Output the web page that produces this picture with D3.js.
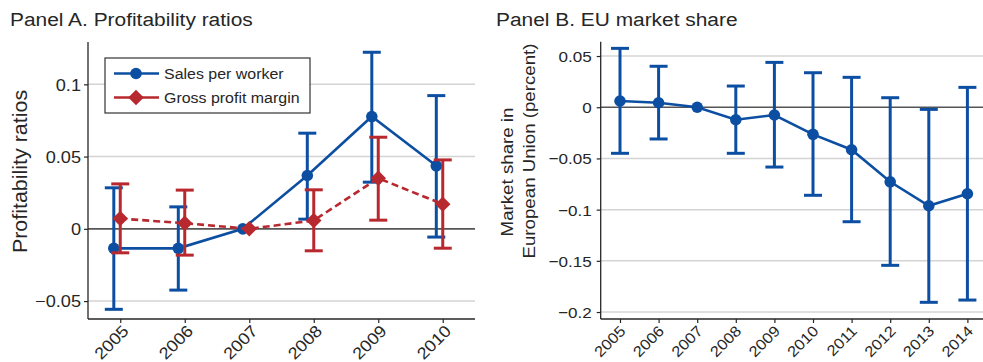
<!DOCTYPE html>
<html>
<head>
<meta charset="utf-8">
<script src="https://cdn.jsdelivr.net/npm/d3@7"></script>
<style>
  html, body { margin: 0; padding: 0; background: #fff; }
  svg { display: block; font-family: "Liberation Sans", Arial, Helvetica, sans-serif; }
</style>
</head>
<body>
<svg id="chart" width="983" height="362"></svg>
<script>
// ---- Panel A: profitability ratios (point estimates with 95% CIs) ----
const yearsA = [2005, 2006, 2007, 2008, 2009, 2010];
const salesEst = [-0.0135, -0.0135, 0, 0.0369, 0.0777, 0.0436];
const salesLo  = [-0.0557, -0.0424, null, 0.0067, 0.0323, -0.0057];
const salesHi  = [0.0284, 0.0152, null, 0.0662, 0.1222, 0.0922];
const marginEst = [0.0071, 0.0039, 0, 0.0058, 0.0350, 0.0171];
const marginLo  = [-0.0166, -0.0182, null, -0.0152, 0.0060, -0.0134];
const marginHi  = [0.0311, 0.0268, null, 0.0270, 0.0634, 0.0477];
const ticksA = [-0.05, 0, 0.05, 0.1];
const tickLabelsA = ["\u22120.05", "0", "0.05", "0.1"];

// ---- Panel B: EU market share ----
const yearsB = [2005, 2006, 2007, 2008, 2009, 2010, 2011, 2012, 2013, 2014];
const shareEst = [0.0061, 0.0044, 0, -0.0122, -0.0076, -0.0265, -0.0415, -0.0728, -0.0962, -0.0845];
const shareLo  = [-0.0450, -0.0310, null, -0.0450, -0.0584, -0.0860, -0.1118, -0.1544, -0.1905, -0.1883];
const shareHi  = [0.0575, 0.0400, null, 0.0207, 0.0438, 0.0337, 0.0292, 0.0093, -0.0021, 0.0194];
const ticksB = [-0.2, -0.15, -0.1, -0.05, 0, 0.05];
const tickLabelsB = ["\u22120.2", "\u22120.15", "\u22120.1", "\u22120.05", "0", "0.05"];

const BLUE = "#0c4fa2";
const RED = "#b8282f";
const GRID = "#d4d4d4";
const AXIS = "#262626";
const TEXT = "#262626";
const STRETCH = 1.1;   // horizontal glyph widening

const svg = d3.select("#chart");

function rows(years, est, lo, hi) {
  return years.map((y, i) => ({ year: y, est: est[i], lo: lo[i], hi: hi[i] }));
}

function drawPanel(cfg) {
  const g = svg.append("g");
  const x = d3.scaleLinear().domain(cfg.xDomain).range(cfg.xRange);
  const y = d3.scaleLinear().domain(cfg.yDomain).range(cfg.yRange);
  const [x0, x1] = cfg.xRange;
  const [yb, yt] = cfg.yRange;

  // gridlines
  g.append("g").selectAll("line")
    .data(cfg.ticks)
    .join("line")
    .attr("x1", x0).attr("x2", x1)
    .attr("y1", d => y(d)).attr("y2", d => y(d))
    .attr("stroke", d => d === 0 ? "#555" : GRID)
    .attr("stroke-width", d => d === 0 ? 1.6 : 1.5);

  // y axis
  const ya = g.append("g").attr("transform", `translate(${x0},0)`)
    .call(d3.axisLeft(y).tickValues(cfg.ticks).tickSize(4)
      .tickFormat((d, i) => cfg.tickLabels[i]));
  ya.select(".domain").attr("stroke", AXIS).attr("stroke-width", 1.3)
    .attr("d", `M0,${yb}V${yt}`);
  ya.selectAll(".tick line").attr("stroke", AXIS).attr("stroke-width", 1.2);
  ya.selectAll(".tick text")
    .attr("x", 0).attr("dy", "0.35em")
    .attr("transform", `translate(${-cfg.yLabelGap},0) scale(${STRETCH},1)`)
    .attr("fill", TEXT)
    .style("font-size", cfg.tickFont + "px")
    .style("font-family", "'Liberation Sans', Arial, sans-serif");

  // x axis
  const xa = g.append("g").attr("transform", `translate(0,${yb})`)
    .call(d3.axisBottom(x).tickValues(cfg.years).tickSize(4).tickFormat(d3.format("d")));
  xa.select(".domain").attr("stroke", AXIS).attr("stroke-width", 1.3)
    .attr("d", `M${x0},0H${x1}`);
  xa.selectAll(".tick line").attr("stroke", AXIS).attr("stroke-width", 1.2);
  xa.selectAll(".tick text")
    .attr("x", 0).attr("y", 0).attr("dy", 0)
    .attr("text-anchor", "end")
    .attr("transform", `translate(${cfg.xLabelDx},${cfg.xLabelDy}) rotate(-45) scale(${STRETCH},1)`)
    .attr("fill", TEXT)
    .style("font-size", cfg.xTickFont + "px")
    .style("font-family", "'Liberation Sans', Arial, sans-serif");

  // title
  g.append("text")
    .attr("transform", `translate(${cfg.titleX},${cfg.titleY}) scale(${STRETCH},1)`)
    .attr("fill", TEXT).style("font-size", "19px")
    .text(cfg.title);

  // y-axis title lines
  cfg.yTitle.forEach(t => {
    g.append("text")
      .attr("transform", `translate(${t.x},${t.y}) rotate(-90) scale(${STRETCH},1)`)
      .attr("text-anchor", "middle")
      .attr("fill", TEXT).style("font-size", t.size + "px")
      .text(t.text);
  });

  return { g, x, y };
}

function drawSeries(p, data, color, offset, marker, dashed) {
  const { g, x, y } = p;
  const sg = g.append("g");
  const capHalf = 9;
  const withCI = data.filter(d => d.lo !== null);

  const line = d3.line().x(d => x(d.year + offset)).y(d => y(d.est));
  sg.append("path").datum(data)
    .attr("d", line).attr("fill", "none")
    .attr("stroke", color).attr("stroke-width", 2.6)
    .attr("stroke-dasharray", dashed ? "7,4" : null);

  sg.selectAll("line.ci").data(withCI).join("line").attr("class", "ci")
    .attr("x1", d => x(d.year + offset)).attr("x2", d => x(d.year + offset))
    .attr("y1", d => y(d.lo)).attr("y2", d => y(d.hi))
    .attr("stroke", color).attr("stroke-width", 3);
  ["lo", "hi"].forEach(k => {
    sg.selectAll("line.cap" + k).data(withCI).join("line").attr("class", "cap" + k)
      .attr("x1", d => x(d.year + offset) - capHalf).attr("x2", d => x(d.year + offset) + capHalf)
      .attr("y1", d => y(d[k])).attr("y2", d => y(d[k]))
      .attr("stroke", color).attr("stroke-width", 3);
  });

  if (marker === "circle") {
    sg.selectAll("circle").data(data).join("circle")
      .attr("cx", d => x(d.year + offset)).attr("cy", d => y(d.est))
      .attr("r", 5.8).attr("fill", color);
  } else {
    sg.selectAll("path.dia").data(data).join("path").attr("class", "dia")
      .attr("d", d3.symbol(d3.symbolSquare, 120))
      .attr("transform", d => `translate(${x(d.year + offset)},${y(d.est)}) rotate(45)`)
      .attr("fill", color);
  }
}

// Panel A
const pA = drawPanel({
  xDomain: [2004.5, 2010.5], xRange: [88, 475],
  yDomain: [-0.0624, 0.1293], yRange: [319, 42],
  ticks: ticksA, tickLabels: tickLabelsA, years: yearsA,
  yLabelGap: 7, tickFont: 16.5, xTickFont: 16.5, xLabelDx: 9, xLabelDy: 13,
  title: "Panel A. Profitability ratios", titleX: 10, titleY: 26,
  yTitle: [{ text: "Profitability ratios", x: 26.5, y: 171.5, size: 19.5 }]
});
drawSeries(pA, rows(yearsA, salesEst, salesLo, salesHi), BLUE, -0.1, "circle", false);
drawSeries(pA, rows(yearsA, marginEst, marginLo, marginHi), RED, 0, "diamond", true);

// legend
const leg = pA.g.append("g");
leg.append("rect").attr("x", 105).attr("y", 58).attr("width", 205).attr("height", 55)
  .attr("fill", "#fff").attr("stroke", "#333").attr("stroke-width", 1.2);
const legItems = [
  { label: "Sales per worker", color: BLUE, marker: "circle", y: 73.5 },
  { label: "Gross profit margin", color: RED, marker: "diamond", y: 97.5 }
];
legItems.forEach(it => {
  leg.append("line").attr("x1", 114).attr("x2", 159).attr("y1", it.y).attr("y2", it.y)
    .attr("stroke", it.color).attr("stroke-width", 2.6);
  if (it.marker === "circle") {
    leg.append("circle").attr("cx", 136).attr("cy", it.y).attr("r", 5.8).attr("fill", it.color);
  } else {
    leg.append("path").attr("d", d3.symbol(d3.symbolSquare, 120))
      .attr("transform", `translate(136,${it.y}) rotate(45)`).attr("fill", it.color);
  }
  leg.append("text")
    .attr("transform", `translate(164,${it.y}) scale(${STRETCH},1)`)
    .attr("dy", "0.35em").attr("fill", TEXT).style("font-size", "14.5px")
    .text(it.label);
});

// Panel B
const pB = drawPanel({
  xDomain: [2004.5, 2014.5], xRange: [600.7, 986.7],
  yDomain: [-0.2068, 0.064], yRange: [319, 41.7],
  ticks: ticksB, tickLabels: tickLabelsB, years: yearsB,
  yLabelGap: 9, tickFont: 15.5, xTickFont: 15, xLabelDx: 6, xLabelDy: 13,
  title: "Panel B. EU market share", titleX: 496, titleY: 26,
  yTitle: [
    { text: "Market share in", x: 513, y: 172, size: 17 },
    { text: "European Union (percent)", x: 535, y: 151, size: 17 }
  ]
});
drawSeries(pB, rows(yearsB, shareEst, shareLo, shareHi), BLUE, 0, "circle", false);
</script>
</body>
</html>
